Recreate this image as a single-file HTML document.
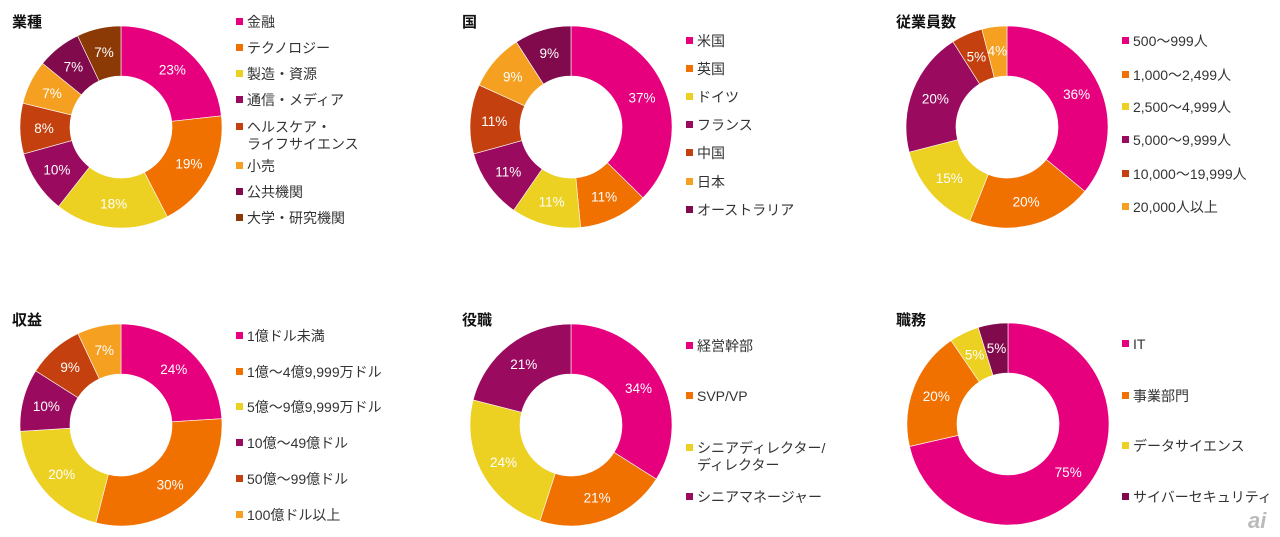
<!DOCTYPE html>
<html><head><meta charset="utf-8"><style>
body{margin:0;width:1280px;height:537px;background:#fff;overflow:hidden;font-family:"Liberation Sans","Noto Sans CJK JP",sans-serif;}
svg{position:absolute;left:0;top:0}
</style></head><body>
<svg id="s" width="1280" height="537" xmlns="http://www.w3.org/2000/svg" font-family="Liberation Sans, Noto Sans CJK JP, sans-serif"></svg>
<script>
const C={m:"#e6007e",o:"#f07000",y:"#ecd022",p:"#9a0a5e",r:"#c4400e",l:"#f5a020",d:"#800a4c",b:"#8b3a06"};
const charts=[
{t:"業種",tx:12,ty:27,cx:121,cy:127,v:[23,19,18,10,8,7,7,7],c:"moyprldb",lx:236,ly:[22,48,74,100,127,166,192,218],
 lab:["金融","テクノロジー","製造・資源","通信・メディア","ヘルスケア・\nライフサイエンス","小売","公共機関","大学・研究機関"]},
{t:"国",tx:462,ty:27,cx:571,cy:127,v:[37,11,11,11,11,9,9],c:"moyprld",lx:686,ly:[41,69,97,125,153,182,210],
 lab:["米国","英国","ドイツ","フランス","中国","日本","オーストラリア"]},
{t:"従業員数",tx:896,ty:27,cx:1007,cy:127,v:[36,20,15,20,5,4],c:"moyprl",lx:1122,ly:[41,75,107,140,174,207],
 lab:["500～999人","1,000～2,499人","2,500～4,999人","5,000～9,999人","10,000～19,999人","20,000人以上"]},
{t:"収益",tx:12,ty:325,cx:121,cy:425,v:[24,30,20,10,9,7],c:"moyprl",lx:236,ly:[336,372,407,443,479,515],
 lab:["1億ドル未満","1億～4億9,999万ドル","5億～9億9,999万ドル","10億～49億ドル","50億～99億ドル","100億ドル以上"]},
{t:"役職",tx:462,ty:325,cx:571,cy:425,v:[34,21,24,21],c:"moyp",lx:686,ly:[346,396,448,497],
 lab:["経営幹部","SVP/VP","シニアディレクター/\nディレクター","シニアマネージャー"]},
{t:"職務",tx:896,ty:325,cx:1008,cy:424,v:[75,20,5,5],c:"moyd",lx:1122,ly:[344,396,446,497],
 lab:["IT","事業部門","データサイエンス","サイバーセキュリティ"]}
];
let h="";const R=101,r=51;
function pt(cx,cy,rad,a){return [cx+rad*Math.sin(a),cy-rad*Math.cos(a)];}
for(const ch of charts){
 h+=`<text x="${ch.tx}" y="${ch.ty}" font-size="15" font-weight="bold" fill="#111">${ch.t}</text>`;
 const tot=ch.v.reduce((a,b)=>a+b,0);let a0=0;
 ch.v.forEach((v,i)=>{const a1=a0+v/tot*2*Math.PI;const lg=(a1-a0)>Math.PI?1:0;
  const [x1,y1]=pt(ch.cx,ch.cy,R,a0),[x2,y2]=pt(ch.cx,ch.cy,R,a1),[x3,y3]=pt(ch.cx,ch.cy,r,a1),[x4,y4]=pt(ch.cx,ch.cy,r,a0);
  h+=`<path d="M${x1} ${y1}A${R} ${R} 0 ${lg} 1 ${x2} ${y2}L${x3} ${y3}A${r} ${r} 0 ${lg} 0 ${x4} ${y4}Z" fill="${C[ch.c[i]]}" stroke="#fff" stroke-width="0.6"/>`;
  const [lx,ly]=pt(ch.cx,ch.cy,77,(a0+a1)/2);
  h+=`<text x="${lx}" y="${ly+5}" font-size="13.5" fill="#fff" text-anchor="middle">${v}%</text>`;
  a0=a1;});
 ch.lab.forEach((l,i)=>{const y=ch.ly[i];
  h+=`<rect x="${ch.lx}" y="${y-4}" width="7" height="7" fill="${C[ch.c[i]]}"/>`;
  l.split("\n").forEach((s,k)=>{h+=`<text x="${ch.lx+11}" y="${y+5+k*17}" font-size="14" fill="#333">${s}</text>`;});
 });
}
h+=`<text x="1248" y="528" font-size="22" font-style="italic" font-weight="bold" fill="#bbb">ai</text>`;
document.getElementById("s").innerHTML=h;
</script>
</body></html>
